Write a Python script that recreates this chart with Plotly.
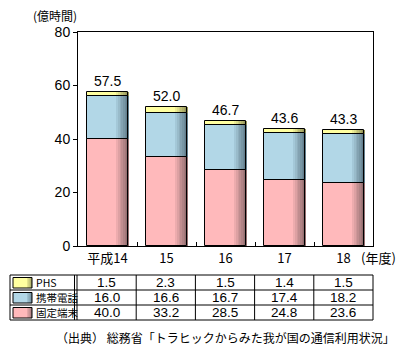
import plotly.graph_objects as go

# ---- data ----
categories = ["平成14", "15", "16", "17", "18"]
fixed = [40.0, 33.2, 28.5, 24.8, 23.6]      # 固定端末
mobile = [16.0, 16.6, 16.7, 17.4, 18.2]     # 携帯電話
phs = [1.5, 2.3, 1.5, 1.4, 1.5]             # PHS
totals = [57.5, 52.0, 46.7, 43.6, 43.3]
series_names = ["固定端末", "携帯電話", "PHS"]
y_ticks = [0, 20, 40, 60, 80]
unit_label = "(億時間)"
year_label = "(年度)"
source_text = "（出典） 総務省「トラヒックからみた我が国の通信利用状況」"

# ---- style / page geometry ----
# the page body adds an 8 px margin; size the figure to the visible area
OX, OY = 8, 8
W, H = 397, 339
base_colors = {"固定端末": (255, 185, 187), "携帯電話": (178, 215, 231), "PHS": (255, 255, 160)}
dark_colors = {"固定端末": (150, 112, 114), "携帯電話": (100, 128, 142), "PHS": (150, 150, 90)}
JP = "Noto Sans CJK JP"
NUM = "Liberation Sans"

def px(x):
    return (x - OX) / W

def py(y):
    return 1 - (y - OY) / H

def rgb(c):
    return "rgb(%d,%d,%d)" % c

def mix(a, b, t):
    return tuple(int(round(a[i] + (b[i] - a[i]) * t)) for i in range(3))

fig = go.Figure()

BW = 0.71
series = [("固定端末", fixed), ("携帯電話", mobile), ("PHS", phs)]
bases = []
run = [0.0] * len(categories)
for name, vals in series:
    bases.append(list(run))
    run = [run[i] + vals[i] for i in range(len(vals))]

# filled bars
for (name, vals), b in zip(series, bases):
    fig.add_trace(go.Bar(x=categories, y=vals, base=b, width=BW, offset=-BW / 2,
                         marker=dict(color=rgb(base_colors[name]), line=dict(width=0)),
                         name=name, showlegend=False, hoverinfo="skip"))
# gradient strips on the right side
NS = 7
gstart = BW / 2 - 0.20
sw = 0.20 / NS
for (name, vals), b in zip(series, bases):
    for k in range(NS):
        t = (k + 1) / NS
        col = mix(base_colors[name], dark_colors[name], t ** 0.9)
        fig.add_trace(go.Bar(x=categories, y=vals, base=b, width=sw + 0.004,
                             offset=gstart + k * sw,
                             marker=dict(color=rgb(col), line=dict(width=0)),
                             showlegend=False, hoverinfo="skip"))
# outlines
for (name, vals), b in zip(series, bases):
    fig.add_trace(go.Bar(x=categories, y=vals, base=b, width=BW, offset=-BW / 2,
                         marker=dict(color="rgba(0,0,0,0)", line=dict(width=1, color="black")),
                         showlegend=False, hoverinfo="skip"))

# totals above bars (x given as category index)
for i, t in enumerate(totals):
    fig.add_annotation(x=i, y=t, text="%.1f" % t, showarrow=False, yshift=11,
                       font=dict(family=NUM, size=14, color="black"))

X0, X1, Y0, Y1 = 78, 373, 32, 246
fig.update_layout(
    width=W, height=H, margin=dict(l=0, r=0, t=0, b=0),
    paper_bgcolor="white", plot_bgcolor="white",
    barmode="overlay", bargap=0,
    xaxis=dict(domain=[px(X0), px(X1)], type="category", categoryorder="array",
               categoryarray=categories, range=[-0.5, len(categories) - 0.5],
               showline=True, linecolor="black", automargin=False,
               linewidth=1, mirror=True, ticks="inside", tickson="boundaries", ticklen=4,
               tickcolor="black", showgrid=False,
               tickfont=dict(family=JP, size=13, color="black")),
    yaxis=dict(domain=[py(Y1), py(Y0)], range=[0, 80], tickvals=y_ticks, showline=True,
               linecolor="black", linewidth=1, mirror=True, ticks="outside", ticklen=4,
               tickcolor="black", showgrid=False, zeroline=False, automargin=False,
               tickfont=dict(family=NUM, size=14, color="black")),
    showlegend=False,
)

fig.add_annotation(xref="paper", yref="paper", x=px(79), y=py(15.5), xanchor="right",
                   yanchor="middle", text=unit_label, showarrow=False,
                   font=dict(family=JP, size=12, color="black"))
fig.add_annotation(xref="paper", yref="paper", x=px(398), y=py(257), xanchor="right",
                   yanchor="middle", text=year_label, showarrow=False,
                   font=dict(family=JP, size=13, color="black"))

# ---- data table ----
TX0, TX1 = 10, 373
TY = [275, 290, 305, 320]
LBL_R = 77
colw = (TX1 - LBL_R) / len(categories)
line = dict(color="black", width=1)
fig.add_shape(type="rect", xref="paper", yref="paper", x0=px(TX0), x1=px(TX1),
              y0=py(TY[0]), y1=py(TY[-1]), line=line)
for yy in TY[1:-1]:
    fig.add_shape(type="line", xref="paper", yref="paper", x0=px(TX0), x1=px(TX1),
                  y0=py(yy), y1=py(yy), line=line)
fig.add_shape(type="line", xref="paper", yref="paper", x0=px(74.5), x1=px(74.5),
              y0=py(TY[0]), y1=py(TY[-1]), line=line)
for k in range(len(categories)):
    xx = LBL_R + k * colw
    fig.add_shape(type="line", xref="paper", yref="paper", x0=px(xx), x1=px(xx),
                  y0=py(TY[0]), y1=py(TY[-1]), line=line)

rows = [("PHS", phs), ("携帯電話", mobile), ("固定端末", fixed)]
for r, (name, vals) in enumerate(rows):
    top, bot = TY[r], TY[r + 1]
    sx0, sx1 = 13, 32
    fig.add_shape(type="rect", xref="paper", yref="paper", x0=px(sx0), x1=px(sx1),
                  y0=py(top + 2.5), y1=py(bot - 2), fillcolor=rgb(base_colors[name]),
                  line=dict(width=0))
    for k in range(4):
        t = (k + 1) / 4
        fig.add_shape(type="rect", xref="paper", yref="paper", x0=px(27 + k * 1.25),
                      x1=px(27 + (k + 1) * 1.25), y0=py(top + 2.5), y1=py(bot - 2),
                      fillcolor=rgb(mix(base_colors[name], dark_colors[name], t)),
                      line=dict(width=0))
    fig.add_shape(type="rect", xref="paper", yref="paper", x0=px(sx0), x1=px(sx1),
                  y0=py(top + 2.5), y1=py(bot - 2), line=dict(color="black", width=1))
    fig.add_annotation(xref="paper", yref="paper", x=px(33.5), y=py((top + bot) / 2),
                       xanchor="left", yanchor="middle", text=name, showarrow=False,
                       font=dict(family=JP, size=10.5, color="black"))
    for k, v in enumerate(vals):
        fig.add_annotation(xref="paper", yref="paper", x=px(LBL_R + (k + 0.5) * colw),
                           y=py((top + bot) / 2), xanchor="center", yanchor="middle",
                           text="%.1f" % v, showarrow=False,
                           font=dict(family=NUM, size=13.5, color="black"))

fig.add_annotation(xref="paper", yref="paper", x=px(397), y=py(337), xanchor="right",
                   yanchor="middle", text=source_text, showarrow=False,
                   font=dict(family=JP, size=12, color="black"))

fig.write_html("out.html")
